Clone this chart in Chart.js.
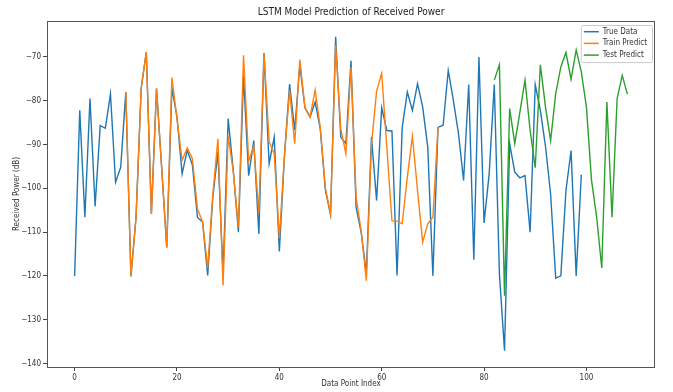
<!DOCTYPE html>
<html lang="en">
<head>
    <meta charset="UTF-8">
    <title>LSTM Model Prediction of Received Power</title>
    <script src="https://cdn.jsdelivr.net/npm/chart.js"></script>
    <style>
        body { margin: 0; background: #fff; }
    </style>
</head>
<body>
    <canvas id="myChart" width="673" height="392"></canvas>

    <script>
        // values (dB), index = data point
        const trueData = [
            -120.0, -82.2, -106.6, -79.5, -104.1, -85.7, -86.3, -78.5, -98.6, -95.2,
            -78.0, -120.1, -106.6, -77.2, -68.9, -105.8, -77.2, -95.2, -113.5, -77.2,
            -83.6, -96.7, -91.3, -94.6, -106.6, -107.7, -119.9, -102.0, -91.7, -119.5,
            -84.1, -96.0, -110.0, -74.3, -97.1, -89.1, -110.4, -69.1, -94.4, -88.3,
            -114.4, -92.5, -76.2, -86.7, -71.8, -81.6, -83.7, -80.3, -86.5, -100.5,
            -106.0, -65.4, -88.3, -89.8, -70.9, -104.3, -110.2, -119.4, -88.3, -102.8,
            -81.6, -86.8, -86.9, -119.9, -86.2, -78.0, -82.2, -76.1, -81.4, -90.6,
            -120.0, -86.1, -85.6, -73.1, -79.9, -87.5, -98.2, -76.3, -116.3, -70.0,
            -107.9, -96.7, -76.3, -119.6, -137.1, -89.8, -96.3, -97.6, -97.1, -110.0,
            -76.3, -82.2, -90.4, -101.3, -120.5, -120.0, -100.5, -91.4, -120.0, -96.9
        ];
        const trainStart = 10;
        const trainPredict = [
            -78.0, -120.1, -106.6, -77.2, -68.9, -105.8, -77.2, -95.2, -113.5, -74.7,
            -84.2, -93.6, -90.8, -93.2, -104.7, -107.7, -118.2, -101.5, -88.7, -122.2,
            -88.0, -96.2, -108.9, -69.6, -93.8, -90.4, -105.5, -69.2, -89.3, -92.1,
            -111.4, -92.5, -77.6, -89.8, -70.6, -81.5, -83.7, -77.6, -86.2, -100.0,
            -105.8, -67.3, -86.5, -92.1, -72.3, -102.0, -109.8, -121.1, -90.0, -77.8,
            -73.8, -90.6, -107.4, -107.5, -108.1, -97.5, -88.1, -100.5, -112.3, -108.1,
            -106.6, -86.0
        ];
        const testStart = 82;
        const testPredict = [
            -75.3, -71.8, -124.5, -81.8, -89.8, -82.6, -75.3, -86.8, -95.3, -71.8,
            -81.4, -89.1, -78.4, -72.3, -69.0, -75.1, -68.4, -73.4, -81.4, -98.2,
            -106.6, -118.2, -80.3, -106.6, -79.5, -74.2, -78.5
        ];
        const xTicks = [0, 20, 40, 60, 80, 100];
        const yTicks = [-140, -130, -120, -110, -100, -90, -80, -70];

        const FONT = "'Liberation Sans Narrow', 'DejaVu Sans Condensed', 'Liberation Sans', sans-serif";

        function toPoints(values, start) {
            return values.map((v, k) => ({ x: start + k, y: v }));
        }

        // matplotlib-like frame round the plot area
        const frame = {
            id: 'frame',
            afterDraw(chart) {
                const { ctx, chartArea: a } = chart;
                ctx.save();
                ctx.strokeStyle = '#555';
                ctx.lineWidth = 1;
                ctx.strokeRect(Math.round(a.left) + 0.5, Math.round(a.top) + 0.5,
                    Math.round(a.right - a.left) - 1, Math.round(a.bottom - a.top));
                ctx.restore();
            }
        };

        // legend drawn inside the upper right corner
        const insideLegend = {
            id: 'insideLegend',
            afterDraw(chart) {
                const { ctx, chartArea: a } = chart;
                const sets = chart.data.datasets;
                ctx.save();
                ctx.font = '8px ' + FONT;
                const rowH = 11.7;
                const textW = Math.max(...sets.map(d => ctx.measureText(d.label).width));
                const boxW = 3 + 15 + 5 + textW + 4;
                const boxH = sets.length * rowH + 2;
                const x = a.right - 3 - boxW;
                const y = a.top + 4;
                ctx.fillStyle = 'rgba(255,255,255,0.8)';
                ctx.strokeStyle = '#ccc';
                ctx.lineWidth = 1;
                ctx.beginPath();
                ctx.roundRect(x + 0.5, y + 0.5, boxW, boxH, 2);
                ctx.fill();
                ctx.stroke();
                sets.forEach((d, k) => {
                    const cy = y + 6.7 + k * rowH;
                    ctx.strokeStyle = d.borderColor;
                    ctx.lineWidth = 1.5;
                    ctx.beginPath();
                    ctx.moveTo(x + 3, cy);
                    ctx.lineTo(x + 18, cy);
                    ctx.stroke();
                    ctx.fillStyle = '#333';
                    ctx.textBaseline = 'middle';
                    ctx.textAlign = 'left';
                    ctx.fillText(d.label, x + 22, cy);
                });
                ctx.restore();
            }
        };

        const ctx = document.getElementById('myChart').getContext('2d');
        new Chart(ctx, {
            type: 'line',
            data: {
                datasets: [{
                    label: 'True Data',
                    data: toPoints(trueData, 0),
                    borderColor: '#1f77b4',
                    order: 3, // drawn first, like matplotlib
                }, {
                    label: 'Train Predict',
                    data: toPoints(trainPredict, trainStart),
                    borderColor: '#ff7f0e',
                    order: 2,
                }, {
                    label: 'Test Predict',
                    data: toPoints(testPredict, testStart),
                    borderColor: '#2ca02c',
                    order: 1,
                }]
            },
            options: {
                responsive: false,
                animation: false,
                parsing: false,
                elements: {
                    line: { borderWidth: 1.4, tension: 0, fill: false },
                    point: { radius: 0, hoverRadius: 0 }
                },
                layout: { padding: { left: 0, right: 18, top: 0, bottom: 0 } },
                plugins: {
                    legend: { display: false },
                    tooltip: { enabled: false },
                    title: {
                        display: true,
                        fullSize: false,
                        text: 'LSTM Model Prediction of Received Power',
                        color: '#222',
                        font: { family: FONT, size: 10, weight: 'normal' },
                        padding: { top: 6, bottom: 3 }
                    }
                },
                scales: {
                    x: {
                        type: 'linear',
                        min: -5.4,
                        max: 113.4,
                        afterBuildTicks: axis => { axis.ticks = xTicks.map(v => ({ value: v })); },
                        afterFit: axis => { axis.height = 25; },
                        grid: { display: true, drawOnChartArea: false, drawTicks: true, tickLength: 4, color: '#444' },
                        border: { display: false },
                        ticks: { color: '#333', font: { family: FONT, size: 8 }, padding: 2, maxRotation: 0 },
                        title: {
                            display: true,
                            text: 'Data Point Index',
                            color: '#333',
                            font: { family: FONT, size: 8 },
                            padding: { top: 0, bottom: 3 }
                        }
                    },
                    y: {
                        type: 'linear',
                        min: -140.8,
                        max: -61.8,
                        afterBuildTicks: axis => { axis.ticks = yTicks.map(v => ({ value: v })); },
                        afterFit: axis => { axis.width = 47; },
                        grid: { display: true, drawOnChartArea: false, drawTicks: true, tickLength: 4, color: '#444' },
                        border: { display: false },
                        ticks: {
                            color: '#333',
                            font: { family: FONT, size: 8 },
                            padding: 2,
                            callback: v => String(v).replace('-', '\u2212')
                        },
                        title: {
                            display: true,
                            text: 'Received Power (dB)',
                            color: '#333',
                            font: { family: FONT, size: 8 },
                            padding: { top: 12, bottom: 0 }
                        }
                    }
                }
            },
            plugins: [frame, insideLegend]
        });
    </script>
</body>
</html>
